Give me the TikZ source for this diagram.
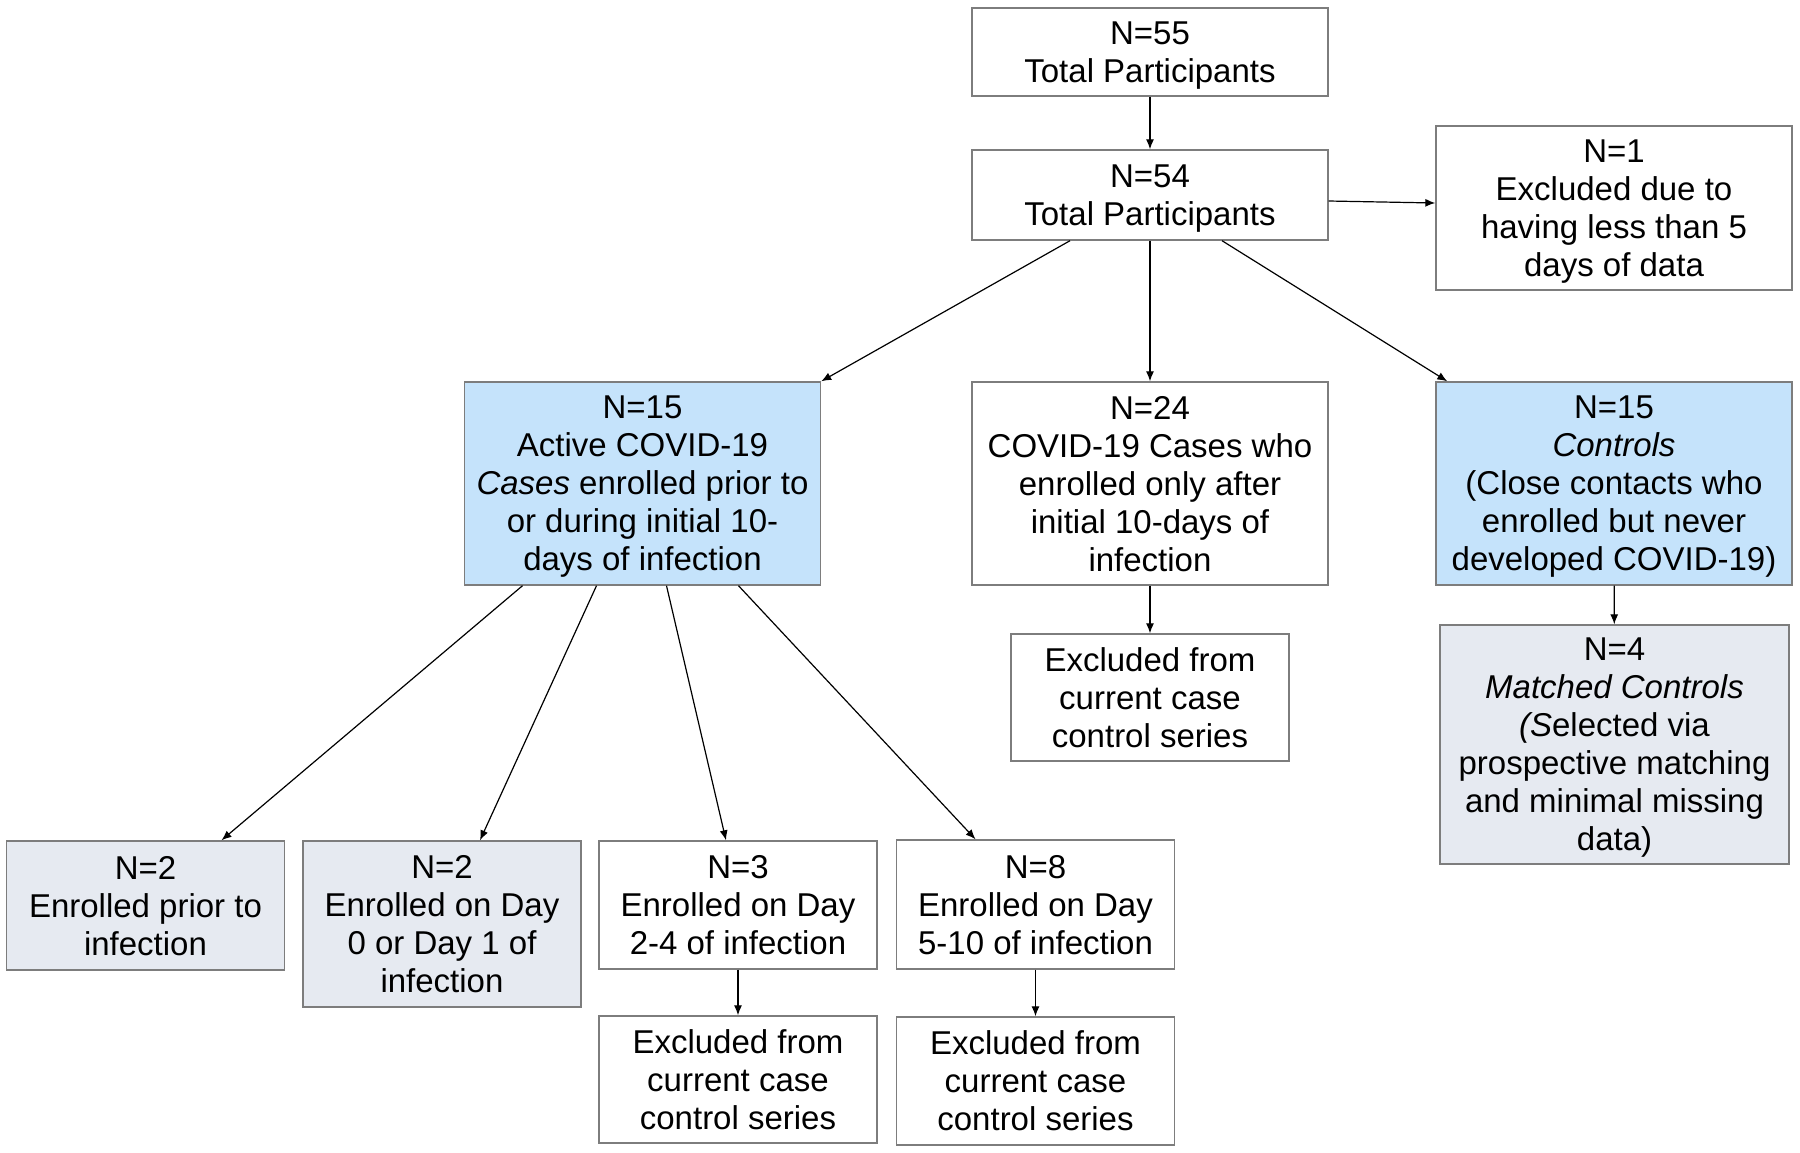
\documentclass[tikz,border=0pt]{standalone}
\usepackage{fontspec}
\setmainfont{Liberation Sans}
\usetikzlibrary{arrows.meta, positioning}
\definecolor{caseblue}{RGB}{197,227,251}
\definecolor{subgray}{RGB}{230,234,241}
\definecolor{edgegray}{RGB}{125,125,125}

\begin{document}
\begin{tikzpicture}[x=0.5pt, y=-0.5pt,
  box/.style={draw=edgegray, line width=0.7pt, align=center, inner sep=0pt, text depth=-0.1pt,
    font=\fontsize{16.5}{19}\selectfont},
  wide/.style={box, minimum width=178pt},
  narrow/.style={box, minimum width=139pt},
  flow/.style={-{Latex[length=5pt,width=4pt]}, line width=0.6pt}]
\useasboundingbox (0,0) rectangle (1800,1152);

% Participants
\node[wide, minimum height=44pt] (total55) at (1150,52) {N=55\\Total Participants};
\node[wide, minimum height=45pt] (total54) at (1150,195) {N=54\\Total Participants};
\node[wide, minimum height=82pt] (lessdata) at (1614,208) {N=1\\Excluded due to\\having less than 5\\days of data};

% Three groups
\node[wide, fill=caseblue, minimum height=101.5pt] (active) at (642.5,483.5) {N=15\\Active COVID-19\\\textit{Cases} enrolled prior to\\or during initial 10-\\days of infection};
\node[wide, minimum height=101.5pt] (late) at (1150,483.5) {N=24\\COVID-19 Cases who\\enrolled only after\\initial 10-days of\\infection};
\node[wide, fill=caseblue, minimum height=101.5pt] (controls) at (1614,483.5) {N=15\\\textit{Controls}\\(Close contacts who\\enrolled but never\\developed COVID-19)};

% Below the groups
\node[narrow, minimum height=63.5pt] (latex) at (1150,697.5) {Excluded from\\current case\\control series};
\node[box, fill=subgray, minimum width=174.5pt, minimum height=119.5pt] (matched) at (1614.5,744.5) {N=4\\\textit{Matched Controls}\\\textit{(S}elected via\\prospective matching\\and minimal missing\\data)};

% Enrollment day
\node[narrow, fill=subgray, minimum height=64.5pt] (prior) at (145.5,905.5) {N=2\\Enrolled prior to\\infection};
\node[narrow, fill=subgray, minimum height=83pt] (dayzero) at (442,924) {N=2\\Enrolled on Day\\0 or Day 1 of\\infection};
\node[narrow, minimum height=64pt] (daytwo) at (738,905) {N=3\\Enrolled on Day\\2-4 of infection};
\node[narrow, minimum height=64.5pt] (dayfive) at (1035.5,904.5) {N=8\\Enrolled on Day\\5-10 of infection};
\node[narrow, minimum height=63.5pt] (twoex) at (738,1079.5) {Excluded from\\current case\\control series};
\node[narrow, minimum height=64pt] (fiveex) at (1035.5,1081) {Excluded from\\current case\\control series};

% Arrows
\draw[flow] (total55) -- (total54);
\draw[flow] ([yshift=-3pt]total54.east) -- ([yshift=2.5pt]lessdata.west);
\draw[flow] ([xshift=-40pt]total54.south) -- (active.north east);
\draw[flow] (total54) -- (late);
\draw[flow] ([xshift=36pt]total54.south) -- ([xshift=6pt]controls.north west);
\draw[flow] (late) -- (latex);
\draw[flow] (controls) -- (matched);
\draw[flow] ([xshift=-60pt]active.south) -- ([xshift=38pt]prior.north);
\draw[flow] ([xshift=-23pt]active.south) -- ([xshift=19pt]dayzero.north);
\draw[flow] ([xshift=12pt]active.south) -- ([xshift=-6pt]daytwo.north);
\draw[flow] ([xshift=48pt]active.south) -- ([xshift=-30pt]dayfive.north);
\draw[flow] (daytwo) -- (twoex);
\draw[flow] (dayfive) -- (fiveex);
\end{tikzpicture}
\end{document}
